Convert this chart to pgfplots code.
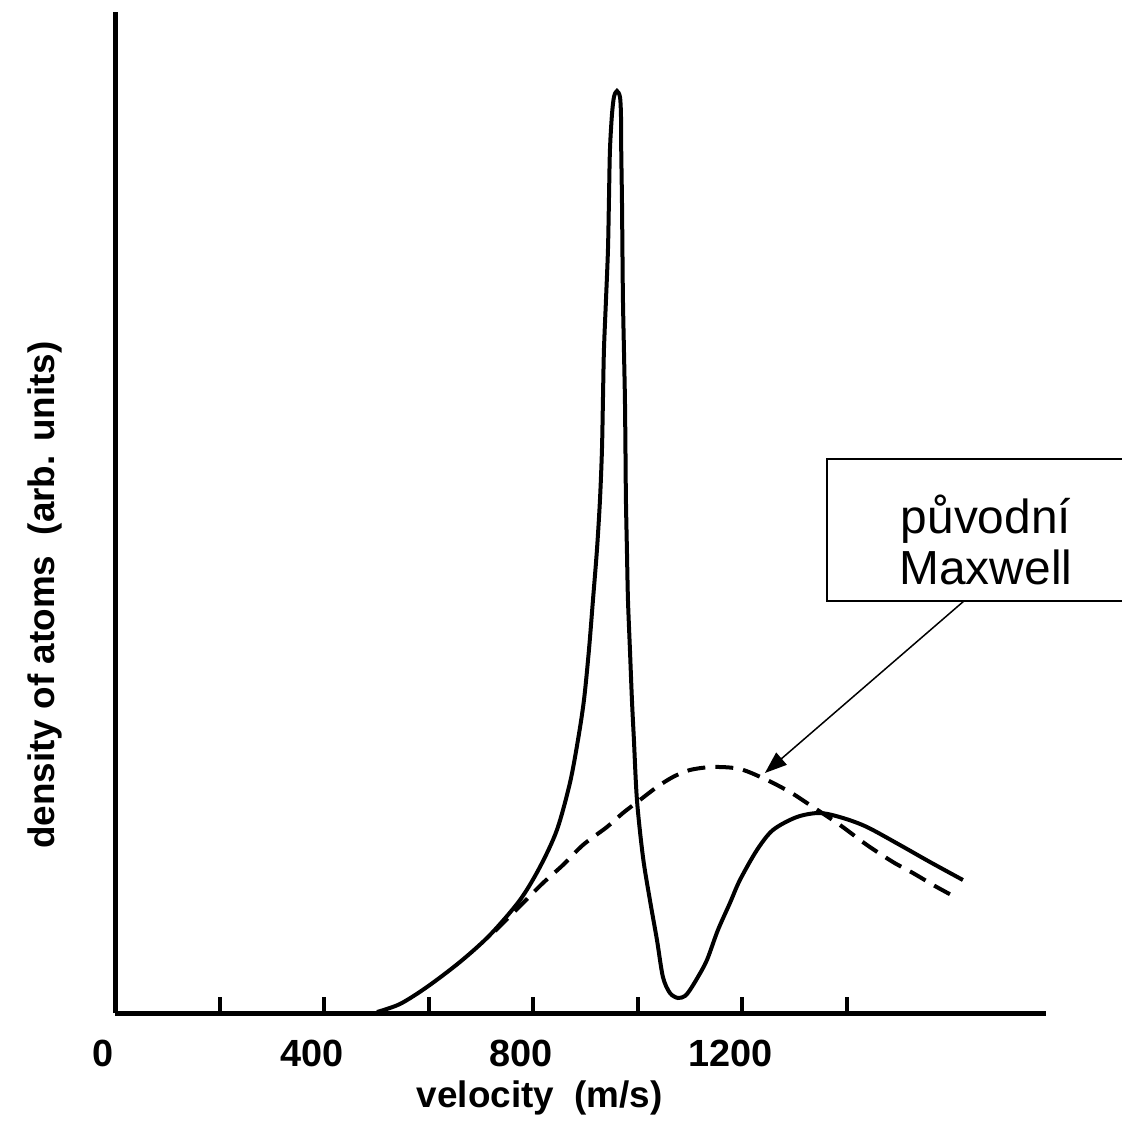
\documentclass[border=0pt]{standalone}
\usepackage{pgfplots}
\pgfplotsset{compat=1.18}
\usetikzlibrary{arrows.meta}
\usepackage{fontspec}
\setmainfont{Liberation Sans}
\begin{document}
\begin{tikzpicture}
\begin{axis}[
  scale only axis, width=465.25bp, height=500.5bp,
  xmin=0, xmax=1781, ymin=0, ymax=1001,
  axis lines*=left,
  axis line style={line width=2.5bp},
  ytick=\empty,
  xtick={0,200,...,1400},
  xticklabels={0,,400,,800,,1200,},
  tick align=inside, major tick length=8bp,
  tick style={line width=2bp, black},
  /pgf/number format/assume math mode=true,
  xticklabel style={font=\fontsize{19}{19}\selectfont\bfseries, xshift=-6bp, yshift=-10bp},
  xlabel={velocity\ \ (m/s)}, ylabel={density of atoms\ \ (arb. units)},
  label style={font=\fontsize{18.5}{18.5}\selectfont\bfseries},
  xlabel style={at={(axis description cs:0.456,-0.085)}, anchor=center},
  ylabel style={at={(axis description cs:-0.0758,0.4176)}, anchor=center},
  clip=false,
]
\addplot[black, line width=2bp, smooth] coordinates {
(500.5,1) (544.5,9) (596.2,26) (659.3,51) (716.7,78) (774.2,113) (812.4,146)
(844.9,183) (869.8,230) (885.2,273) (896.7,313) (906.2,363) (913.9,413)
(921.5,463) (927.3,513) (931.1,563) (933.0,613) (934.9,663) (938.8,713)
(942.6,763) (944.5,813) (946.4,863) (950.2,898) (954.1,916) (959.8,922)
(965.6,916) (967.5,898) (968.0,863) (969.4,813) (970.3,763) (971.3,713)
(973.2,663) (975.1,613) (976.1,563) (977.0,513) (978.9,463) (980.9,413)
(984.7,363) (988.5,313) (992.3,273) (998.1,213) (1009.6,156) (1022.9,113)
(1036.4,73) (1047.8,36) (1061.2,20) (1076.6,15) (1090.0,17) (1099.5,23)
(1114.8,36) (1132.1,53) (1153.1,83) (1176.1,110) (1195.2,133) (1227.8,163)
(1258.4,183) (1304.3,196) (1348.3,200) (1392.3,195) (1438.3,186) (1501.4,168)
(1558.9,151) (1622.0,133)
};
\addplot[black, line width=2bp, smooth, dash pattern=on 9bp off 5bp] coordinates {
(726.3,82) (779.9,110) (818.2,130) (856.5,148) (894.7,168) (940.7,186)
(971.3,200) (1003.8,213) (1036.4,226) (1067.0,236) (1099.5,243) (1143.5,246)
(1195.2,244) (1246.9,233) (1290.9,221) (1323.4,210) (1386.6,188) (1438.3,168)
(1488.0,151) (1526.3,140) (1568.4,127) (1610.5,115)
};
\draw[line width=0.75bp] (axis cs:1926.3,554) -- (axis cs:1361.7,554) -- (axis cs:1361.7,412) -- (axis cs:1926.3,412);
\node[align=center, font=\fontsize{24}{26}\selectfont] at (axis cs:1666,473) {původní\\Maxwell};
\draw[line width=0.75bp, -{Triangle[length=11bp,width=8bp]}] (axis cs:1624,412) -- (axis cs:1243,240);
\coordinate (bbSW) at (axis cs:-221.05,-131);
\coordinate (bbNE) at (axis cs:1926.3,1013);
\end{axis}
\pgfresetboundingbox
\path[use as bounding box] (bbSW) rectangle (bbNE);
\end{tikzpicture}
\end{document}
